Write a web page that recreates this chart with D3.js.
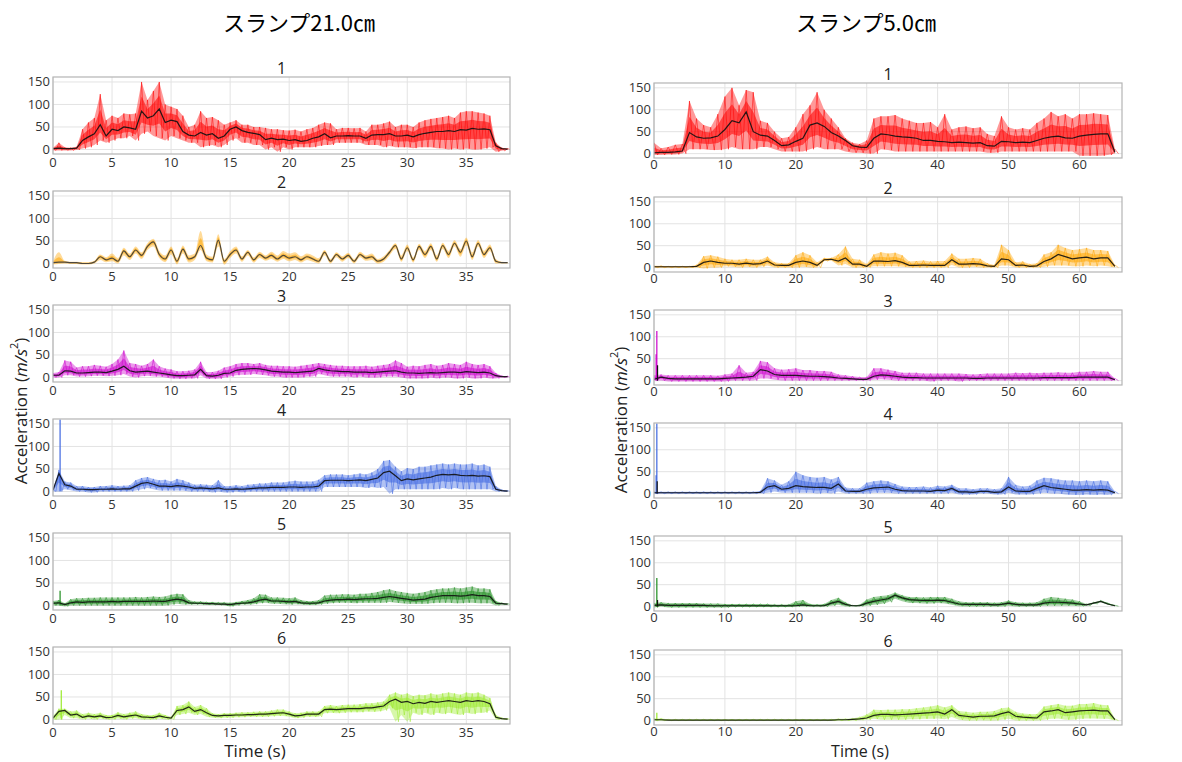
<!DOCTYPE html>
<html><head><meta charset="utf-8">
<script src="https://cdn.jsdelivr.net/npm/d3@7"></script>
<style>body{margin:0;background:#fff}svg{display:block}</style>
</head><body>
<script>
// ---------- data ----------
const mainTitles = ["スランプ21.0㎝", "スランプ5.0㎝"];
const panelTitles = ["1","2","3","4","5","6"];
const leftTicksX = [0,5,10,15,20,25,30,35];
const rightTicksX = [0,10,20,30,40,50,60];
const yTicks = [0,50,100,150];
const seriesColors = ["#ff0000","#ffa500","#cc00cc","#3d66e0","#1c8c1c","#9aea2a"];
const leftStep = 0.5;   // s between samples (left, 21.0cm)
const rightStep = 1.0;  // s between samples (right, 5.0cm)

// Left: スランプ21.0cm  (t = 0, 0.5, ... 38.5)
const L1_mean=[2,3,2,2,3, 20,28,35,55,30, 45,42,50,48,45, 85,70,75,90,60, 65,62,40,32,30, 38,32,35,25,30, 45,50,42,38,36, 33,22,25,22,23, 20,22,18,20,25, 28,35,26,30,30, 31,30,30,25,32, 33,33,35,30,30, 32,28,33,36,38, 40,40,42,40,44, 43,47,45,46,44, 8,2,1];
const L1_hi=[4,15,5,4,6, 45,60,70,123,65, 75,70,80,78,80, 150,110,130,150,100, 95,90,75,50,55, 85,70,72,65,55, 60,65,55,55,50, 50,48,45,45,43, 42,44,40,45,48, 55,60,58,45,48, 48,47,48,40,55, 55,58,62,50,55, 55,50,60,65,68, 70,72,75,70,82, 85,85,82,80,75, 15,4,2];
const L1_lo=[-2,-2,-2,-2,-1, 2,5,10,20,15, 20,25,25,30,20, 35,40,30,25,20, 30,25,20,15,15, 5,8,10,5,10, 20,25,15,15,10, 10,0,5,-5,5, 0,5,5,5,5, 8,10,10,15,15, 15,15,15,10,10, 10,5,8,5,5, 5,3,5,5,5, 3,2,0,2,0, 2,0,0,2,5, -5,-3,0];
const L2_mean=[2,3,3,2,2, 0,0,3,15,8, 12,5,28,15,30, 18,38,48,20,10, 30,5,32,10,15, 40,12,8,52,5, 20,30,10,25,8, 20,12,18,10,18, 12,15,8,15,10, 5,25,5,20,10, 18,5,20,12,15, 5,10,25,40,10, 35,8,38,20,38, 10,40,20,45,25, 50,15,45,20,35, 5,2,2];
const L2_hi=[5,25,6,4,4, 3,3,6,20,14, 22,12,35,22,38, 25,45,55,28,18, 38,12,40,18,22, 72,20,15,65,10, 28,38,16,30,14, 26,18,26,18,28, 22,25,16,22,18, 12,30,10,25,16, 24,10,26,18,22, 10,16,30,45,18, 42,14,44,28,45, 18,46,28,52,32, 58,25,52,28,42, 10,4,3];
const L2_lo=[-2,-1,0,-1,-1, -2,-2,0,8,3, 5,0,18,8,22, 10,30,38,12,3, 20,-2,22,2,8, 30,5,2,38,-3, 12,22,4,18,2, 12,6,10,4,10, 5,8,2,8,4, 0,18,0,14,4, 12,0,14,6,8, 0,4,18,32,4, 28,2,30,12,30, 4,32,12,38,15, 40,8,38,12,28, 0,0,0];
const L3_mean=[5,5,15,14,10, 10,11,12,12,11, 14,18,25,15,12, 13,14,12,10,8, 6,4,4,5,6, 18,4,3,5,9, 10,16,18,19,20, 19,17,14,13,12, 12,11,12,13,14, 20,17,15,14,13, 13,12,12,12,11, 12,13,14,15,12, 10,10,9,10,11, 10,11,12,12,11, 13,12,11,12,10, 4,2,2];
const L3_hi=[10,12,38,35,22, 25,25,28,26,24, 30,40,60,32,30, 26,30,40,25,20, 18,14,14,15,18, 35,12,12,15,22, 25,30,32,32,30, 32,28,26,26,25, 25,24,26,28,30, 32,30,28,26,26, 25,25,25,26,24, 26,28,30,38,32, 24,26,25,28,30, 26,28,32,30,28, 35,30,28,30,25, 10,4,3];
const L3_lo=[0,0,5,5,2, 2,3,4,4,3, 4,5,8,2,0, 3,4,2,2,0, -2,-3,-3,-2,-2, 5,-3,-3,-3,0, 2,5,6,6,8, 6,5,2,2,0, 0,0,0,2,2, 8,5,2,2,2, 2,0,2,0,0, 0,2,2,2,0, -2,-2,-2,-2,0, -2,0,0,-2,-2, 0,-2,-2,0,-2, -2,0,0];
const L4_mean=[3,40,15,12,5, 5,4,4,5,5, 6,5,6,6,12, 18,20,16,12,12, 11,13,12,10,7, 8,7,6,8,5, 5,6,5,6,7, 8,8,9,9,9, 10,10,9,10,10, 12,24,25,25,25, 24,25,26,24,27, 30,42,45,35,24, 28,26,28,30,32, 36,38,37,38,36, 35,36,34,35,33, 5,2,1];
const L4_hi=[6,48,22,20,12, 12,10,10,12,12, 14,12,13,14,25, 30,32,28,25,26, 22,28,25,20,15, 16,15,14,25,12, 12,14,12,15,16, 18,18,20,20,20, 22,24,22,22,22, 26,36,38,38,38, 36,38,40,38,42, 50,68,70,55,45, 52,50,55,55,58, 60,62,60,62,60, 60,62,58,60,55, 12,4,2];
const L4_lo=[0,0,5,3,0, 0,-2,-2,0,0, 0,0,0,0,2, 5,8,5,2,2, 2,2,2,0,0, 0,0,-2,0,-2, -2,0,-2,0,0, 0,0,0,0,0, 0,0,0,0,0, 0,10,10,10,10, 10,10,10,8,10, 8,10,-5,5,5, 5,5,5,5,5, 5,8,5,8,5, 5,5,5,5,5, 0,0,0];
const L5_mean=[5,6,2,6,8, 7,8,8,8,8, 9,8,9,9,9, 9,9,10,9,9, 12,14,12,6,5, 5,4,4,3,3, 2,4,5,6,8, 12,14,10,10,9, 8,9,6,5,5, 6,10,12,13,13, 14,13,14,15,15, 16,18,20,18,16, 14,12,13,14,18, 20,22,22,22,21, 22,24,22,22,20, 5,4,3];
const L5_hi=[10,12,5,14,16, 16,17,17,18,18, 18,18,18,18,19, 18,19,20,19,20, 24,26,25,12,9, 9,8,8,7,7, 6,8,10,12,16, 25,24,18,18,17, 16,18,12,10,10, 12,22,24,24,25, 25,24,26,26,28, 30,34,36,32,30, 28,26,28,30,34, 36,38,38,40,38, 40,42,38,38,36, 10,6,4];
const L5_lo=[0,0,-2,0,0, 0,0,0,0,0, 0,0,0,0,0, 0,0,0,0,0, 2,4,2,2,2, 2,1,1,1,0, -2,0,2,2,3, 5,6,4,4,3, 2,3,2,1,1, 2,4,5,6,6, 6,5,6,6,6, 6,6,8,6,5, 4,4,4,4,5, 6,6,6,5,5, 6,6,5,5,5, 0,2,2];
const L6_mean=[3,18,20,10,12, 5,8,6,8,4, 5,9,6,8,10, 6,5,4,8,5, 3,20,22,28,18, 22,15,9,8,9, 9,10,10,11,11, 12,12,13,14,15, 12,8,9,12,12, 12,22,23,22,23, 24,24,24,26,26, 28,30,40,45,38, 40,35,38,36,40, 38,40,42,40,38, 42,40,42,40,35, 5,2,1];
const L6_hi=[8,24,24,18,20, 12,15,12,15,10, 10,16,12,15,18, 12,10,10,15,10, 6,30,32,40,28, 32,25,14,12,14, 14,15,16,16,17, 18,18,20,22,22, 18,14,15,18,18, 18,30,32,30,32, 33,33,34,36,36, 38,40,55,60,55, 58,52,55,54,58, 55,58,60,58,55, 60,58,60,55,48, 10,4,2];
const L6_lo=[0,0,10,3,3, 0,2,0,2,0, 0,2,0,2,3, 0,0,0,2,0, 0,10,12,15,10, 12,6,4,3,4, 4,5,5,6,6, 6,6,7,8,8, 6,3,4,6,6, 6,14,15,14,15, 16,16,16,18,17, 18,20,25,-5,10, -5,15,10,15,10, 15,12,15,12,10, 15,12,15,15,20, 0,0,0];
// single tall spikes [time, value]
const L4_spikes=[[0.6,160]];
const L5_spikes=[[0.6,33]];
const L6_spikes=[[0.7,65]];

// Right: スランプ5.0cm  (t = 0, 1, ... 65)
const R1_mean=[2,3,3,4,6, 48,38,35,36,40, 55,75,70,95,50, 42,40,30,18,20, 28,35,65,70,62, 48,40,30,18,15, 14,35,45,43,40, 38,37,35,30,30, 28,27,25,26,25, 24,25,18,17,28, 27,25,26,25,30, 35,38,40,36,35, 40,42,44,45,45, 3];
const R1_hi=[25,12,15,20,22, 120,80,65,60,90, 130,150,110,145,140, 75,70,50,35,38, 60,90,110,140,100, 80,60,35,25,22, 30,80,85,85,88, 80,75,70,70,72, 60,90,55,60,62, 58,60,45,40,85, 60,55,58,55,70, 80,95,85,90,80, 90,90,92,90,88, 10];
const R1_lo=[-3,-3,-2,-2,0, 10,10,10,8,8, 10,15,10,10,10, 15,15,10,5,5, 5,5,10,15,10, 10,10,5,2,2, 0,0,10,8,5, 5,5,5,5,5, 5,5,5,5,5, 5,5,2,2,5, 5,5,5,5,5, 5,5,5,5,5, -5,-5,-5,-5,-3, 0];
const R2_mean=[2,2,2,2,2, 2,3,12,15,12, 10,10,8,10,8, 9,15,6,5,5, 12,15,12,5,18, 19,15,22,8,8, 3,15,15,14,16, 12,5,5,6,5, 5,5,18,8,8, 9,8,4,3,20, 18,5,6,3,4, 14,20,30,25,20, 22,24,20,22,22, 3];
const R2_hi=[4,4,3,3,3, 3,6,26,28,25, 20,18,18,20,18, 18,25,12,10,10, 28,35,28,12,22, 22,30,48,20,18, 8,30,35,32,34, 28,14,15,16,14, 15,15,32,20,20, 22,20,10,6,52, 40,12,14,8,10, 30,35,52,45,40, 42,45,40,40,38, 6];
const R2_lo=[0,0,0,0,0, 0,0,-2,0,0, 3,2,0,2,0, 2,5,0,0,0, 0,2,0,0,15, 16,5,8,0,0, 0,3,3,3,3, 2,0,0,0,0, 0,0,6,0,0, 2,0,0,0,5, 5,0,0,0,0, 2,5,5,5,3, 3,5,3,5,3, 0];
const R3_mean=[3,8,5,4,4, 4,4,4,4,4, 5,6,7,8,10, 25,22,14,12,12, 12,11,10,10,9, 8,6,5,4,3, 3,10,13,12,10, 8,7,7,6,6, 6,6,6,6,6, 5,5,6,6,6, 6,6,6,6,6, 7,7,7,7,7, 8,8,8,8,8, 2];
const R3_hi=[12,14,12,12,12, 12,12,12,12,11, 14,16,35,18,20, 45,42,28,25,26, 28,24,24,22,22, 20,14,12,10,8, 8,28,28,25,22, 18,18,18,16,16, 16,16,16,16,15, 14,15,16,16,16, 16,18,17,18,17, 18,18,19,18,18, 20,20,22,20,20, 5];
const R3_lo=[0,0,-2,-2,-2, -2,-2,-2,-2,-2, -2,0,0,0,0, 5,5,2,0,0, 0,0,0,0,0, 0,0,0,0,0, 0,2,3,2,0, 0,0,0,0,-2, 0,0,0,-2,0, 0,0,0,0,0, 0,0,0,0,0, 0,0,0,0,0, 0,0,0,0,0, 0];
const R4_mean=[2,2,2,2,2, 2,2,2,2,2, 2,2,2,2,2, 3,15,18,10,12, 18,16,15,14,14, 12,22,6,5,5, 10,13,14,15,10, 7,6,6,6,5, 8,7,12,4,4, 3,5,5,3,4, 15,6,5,5,12, 18,14,12,10,8, 8,9,8,9,8, 2];
const R4_hi=[4,4,4,4,4, 4,4,4,4,4, 4,4,4,4,4, 6,35,30,20,28, 50,42,38,36,38, 32,38,14,12,12, 25,28,30,28,22, 16,15,15,16,14, 18,16,20,12,12, 10,12,12,10,12, 38,20,16,18,30, 36,35,32,30,30, 28,30,28,30,28, 5];
const R4_lo=[0,0,0,0,0, 0,0,0,0,0, 0,0,0,0,0, 0,2,5,2,2, 2,2,2,0,2, 0,5,0,0,0, 0,2,2,2,0, 0,0,0,0,0, 0,0,2,-2,-2, -2,0,0,-2,-2, 2,-2,-2,-2,0, 2,0,0,-2,-3, -3,-2,-3,-2,-3, 0];
const R5_mean=[3,4,3,3,3, 3,3,3,2,2, 2,2,2,2,2, 2,2,2,2,2, 2,4,2,2,2, 8,12,5,2,2, 8,12,15,18,26, 20,16,15,14,14, 15,14,10,6,5, 5,5,5,4,5, 8,5,4,4,4, 8,10,10,9,8, 6,4,8,12,6, 2];
const R5_hi=[8,10,8,8,8, 8,8,7,7,7, 6,6,6,6,6, 6,6,5,5,5, 12,15,6,5,6, 15,20,10,3,4, 16,22,24,26,32, 26,22,22,21,22, 22,22,18,12,10, 10,10,10,9,10, 14,10,9,9,10, 18,22,20,18,16, 12,6,10,14,8, 3];
const R5_lo=[-2,0,-2,-2,-2, -2,-2,-2,-2,-2, -2,-1,-1,-1,-1, -1,-1,-1,-1,-1, 0,0,0,0,0, 2,4,0,1,1, 2,4,6,10,18, 12,8,8,7,7, 8,7,4,1,0, 0,0,0,0,0, 2,0,0,0,0, 2,2,2,2,2, 1,2,6,10,4, 1];
const R6_mean=[2,2,1,1,1, 1,1,1,1,1, 1,1,1,1,1, 1,1,1,1,1, 1,1,1,1,1, 1,2,2,3,4, 6,12,14,14,13, 14,15,16,17,18, 20,15,25,12,10, 8,10,10,11,16, 20,10,8,7,6, 20,22,25,18,20, 22,23,24,22,22, 2];
const R6_hi=[5,5,3,3,3, 3,3,3,3,3, 3,3,3,3,3, 3,3,3,3,3, 3,3,3,3,3, 3,4,4,5,8, 14,25,24,25,25, 26,26,28,30,32, 35,30,35,22,20, 18,20,20,22,28, 30,20,16,15,15, 32,35,38,34,34, 38,38,40,36,35, 4];
const R6_lo=[0,0,0,0,0, 0,0,0,0,0, 0,0,0,0,0, 0,0,0,0,0, 0,0,0,0,0, 0,0,0,0,1, 2,4,2,2,2, 2,3,3,4,4, 5,3,8,2,0, 0,1,0,0,2, 4,0,0,0,0, 2,4,5,2,2, 4,5,5,4,4, 0];
const R3_spikes=[[0.3,60],[0.4,113]];
const R4_spikes=[[0.3,42],[0.4,160]];
const R5_spikes=[[0.4,65]];
const R6_spikes=[[0.4,18]];
const R3_meanSpikes=[[0.5,35]];
const R4_meanSpikes=[[0.45,28]];
const R5_meanSpikes=[[0.5,15]];

// ---------- assemble ----------
const leftSeries = [
  {mean:L1_mean,hi:L1_hi,lo:L1_lo,spikes:[],ms:[]},
  {mean:L2_mean,hi:L2_hi,lo:L2_lo,spikes:[],ms:[],smooth:true},
  {mean:L3_mean,hi:L3_hi,lo:L3_lo,spikes:[],ms:[]},
  {mean:L4_mean,hi:L4_hi,lo:L4_lo,spikes:L4_spikes,ms:[]},
  {mean:L5_mean,hi:L5_hi,lo:L5_lo,spikes:L5_spikes,ms:[]},
  {mean:L6_mean,hi:L6_hi,lo:L6_lo,spikes:L6_spikes,ms:[]}
];
const rightSeries = [
  {mean:R1_mean,hi:R1_hi,lo:R1_lo,spikes:[],ms:[]},
  {mean:R2_mean,hi:R2_hi,lo:R2_lo,spikes:[],ms:[]},
  {mean:R3_mean,hi:R3_hi,lo:R3_lo,spikes:R3_spikes,ms:R3_meanSpikes},
  {mean:R4_mean,hi:R4_hi,lo:R4_lo,spikes:R4_spikes,ms:R4_meanSpikes},
  {mean:R5_mean,hi:R5_hi,lo:R5_lo,spikes:R5_spikes,ms:R5_meanSpikes},
  {mean:R6_mean,hi:R6_hi,lo:R6_lo,spikes:R6_spikes,ms:[]}
];

const W=1182, H=762;
const svg=d3.select("body").append("svg").attr("width",W).attr("height",H);
svg.append("rect").attr("width",W).attr("height",H).attr("fill","#fff");
const defs=svg.append("defs");
const tickFont="'Open Sans','Noto Sans',sans-serif";

const columns=[
  {series:leftSeries, xDomain:[0,38.7], xRange:[53,510], tops:[77,191,305,419,533,647], h:77,
   step:leftStep, ticks:leftTicksX, title:mainTitles[0], titleX:299, ylab:[20,411], tlab:[255,757], tlabSize:17, tickDy:13},
  {series:rightSeries, xDomain:[0,66], xRange:[654,1122], tops:[83,197,310,423,536,650], h:75,
   step:rightStep, ticks:rightTicksX, title:mainTitles[1], titleX:866, ylab:[620,420], tlab:[860,757.4], tlabSize:16, tickDy:11}
];

columns.forEach((col,ci)=>{
  svg.append("text").attr("x",col.titleX).attr("y",31).attr("text-anchor","middle")
    .attr("font-family","'Noto Sans CJK JP',sans-serif").attr("font-size",22).attr("fill","#000")
    .text(col.title);
  const x=d3.scaleLinear().domain(col.xDomain).range(col.xRange);
  col.series.forEach((s,pi)=>{
    const top=col.tops[pi], bot=top+col.h;
    const y=d3.scaleLinear().domain([-10,161]).range([bot,top]);
    const g=svg.append("g");
    const cid="clip"+ci+"_"+pi;
    defs.append("clipPath").attr("id",cid).append("rect")
      .attr("x",col.xRange[0]).attr("y",top).attr("width",col.xRange[1]-col.xRange[0]).attr("height",col.h);
    // grid
    g.selectAll(".gx").data(col.ticks).enter().append("line")
      .attr("x1",d=>x(d)).attr("x2",d=>x(d)).attr("y1",top).attr("y2",bot)
      .attr("stroke","#e3e3e3").attr("stroke-width",1);
    g.selectAll(".gy").data(yTicks).enter().append("line")
      .attr("x1",col.xRange[0]).attr("x2",col.xRange[1]).attr("y1",d=>y(d)).attr("y2",d=>y(d))
      .attr("stroke","#e3e3e3").attr("stroke-width",1);
    // data
    const color=seriesColors[pi];
    const dg=g.append("g").attr("clip-path","url(#"+cid+")");
    const n=s.hi.length;
    const band=d3.range(n).map(i=>({t:i*col.step, hi:s.hi[i], lo:s.lo[i], m:s.mean[i]}));
    const curve = s.smooth ? d3.curveMonotoneX : d3.curveLinear;
    dg.append("path").datum(band)
      .attr("d",d3.area().curve(curve).x(d=>x(d.t)).y0(d=>y(d.lo)).y1(d=>y(d.hi)))
      .attr("fill",color).attr("fill-opacity",0.4).attr("stroke","none");
    dg.append("path").datum(band)
      .attr("d",d3.area().curve(curve).x(d=>x(d.t)).y0(d=>y((d.lo+d.m)/2)).y1(d=>y((d.hi+d.m)/2)))
      .attr("fill",color).attr("fill-opacity",0.55).attr("stroke","none");
    if(!s.smooth){
      const zz=[];
      band.forEach(d=>{ zz.push([d.t,d.hi]); zz.push([d.t+col.step/2,d.lo]); });
      dg.append("path").datum(zz)
        .attr("d",d3.line().x(d=>x(d[0])).y(d=>y(d[1])))
        .attr("fill","none").attr("stroke",color).attr("stroke-width",0.7).attr("stroke-opacity",0.75);
    }
    dg.selectAll(".sp").data(s.spikes).enter().append("line")
      .attr("x1",d=>x(d[0])).attr("x2",d=>x(d[0])).attr("y1",y(0)).attr("y2",d=>y(d[1]))
      .attr("stroke",color).attr("stroke-width",1.2);
    dg.selectAll(".ms").data(s.ms).enter().append("line")
      .attr("x1",d=>x(d[0])).attr("x2",d=>x(d[0])).attr("y1",y(0)).attr("y2",d=>y(d[1]))
      .attr("stroke","#111").attr("stroke-width",1.2);
    dg.append("path").datum(s.mean.map((v,i)=>[i*col.step,v]))
      .attr("d",d3.line().curve(curve).x(d=>x(d[0])).y(d=>y(d[1])))
      .attr("fill","none").attr("stroke",s.smooth?"#3a3a3a":"#111").attr("stroke-width",1.2).attr("stroke-opacity",0.9);
    // frame
    g.append("rect").attr("x",col.xRange[0]).attr("y",top)
      .attr("width",col.xRange[1]-col.xRange[0]).attr("height",col.h)
      .attr("fill","none").attr("stroke","#b4b4b4").attr("stroke-width",1.2);
    // tick labels
    g.selectAll(".tx").data(col.ticks).enter().append("text")
      .attr("x",d=>x(d)).attr("y",bot+col.tickDy).attr("text-anchor","middle")
      .attr("font-family",tickFont).attr("font-size",13).attr("fill","#333").text(d=>d);
    g.selectAll(".ty").data(yTicks).enter().append("text")
      .attr("x",col.xRange[0]-3).attr("y",d=>y(d)+4.5).attr("text-anchor","end")
      .attr("font-family",tickFont).attr("font-size",13).attr("fill","#333").text(d=>d);
    // panel title
    g.append("text").attr("x",(col.xRange[0]+col.xRange[1])/2).attr("y",top-3)
      .attr("text-anchor","middle").attr("font-family",tickFont).attr("font-size",16).attr("fill","#222")
      .text(panelTitles[pi]);
  });
  // y label
  const yl=svg.append("text").attr("transform",`translate(${col.ylab[0]},${col.ylab[1]}) rotate(-90)`)
    .attr("text-anchor","middle").attr("dominant-baseline","central")
    .attr("font-family",tickFont).attr("font-size",17).attr("fill","#222");
  yl.append("tspan").text("Acceleration (");
  yl.append("tspan").attr("font-style","italic").text("m/s");
  yl.append("tspan").attr("font-size",11).attr("dy",-7).text("2");
  yl.append("tspan").attr("dy",7).text(")");
  svg.append("text").attr("x",col.tlab[0]).attr("y",col.tlab[1]).attr("text-anchor","middle")
    .attr("font-family",tickFont).attr("font-size",col.tlabSize).attr("fill","#222").text("Time (s)");
});
</script>
</body></html>
